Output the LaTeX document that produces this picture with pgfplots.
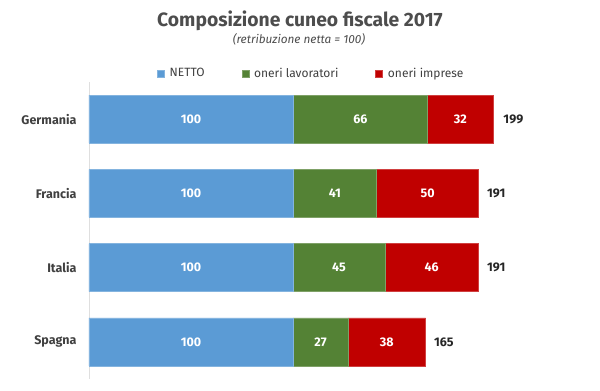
\documentclass[border=0pt]{standalone}
\usepackage{pgfplots}
\pgfplotsset{compat=1.18}
\usepackage{fontspec}
\setmainfont{Fira Sans}
\definecolor{cblue}{HTML}{5B9BD5}
\definecolor{cgreen}{HTML}{548235}
\definecolor{cred}{HTML}{C00000}
\definecolor{tgray}{HTML}{404040}
\definecolor{ttl}{HTML}{4D4D4D}
\pgfplotsset{
  myaxis/.style={at={(89pt,12pt)}, anchor=south west, scale only axis,
    width=510pt, height=297pt, xmin=0, xmax=250, ymin=-0.5, ymax=3.5, y dir=reverse},
}
\begin{document}
\begin{tikzpicture}
\useasboundingbox (0,0) rectangle (600pt,391pt);
\node[anchor=base, font=\fontsize{19.3}{22}\selectfont\bfseries, text=ttl] at (300pt,364pt) {Composizione cuneo fiscale 2017};
\node[anchor=base, font=\fontsize{11.8}{13}\selectfont\itshape, text=ttl] at (299pt,347pt) {(retribuzione netta = 100)};
\begin{axis}[myaxis, xbar stacked, bar width=48pt,
  ytick={0,1,2,3}, yticklabels={Germania,Francia,Italia,Spagna},
  yticklabel style={font=\fontsize{12.5}{14}\selectfont\bfseries, text=tgray, xshift=-9pt},
  ytick style={draw=none}, xtick=\empty,
  axis x line=none, axis y line*=left, y axis line style={draw=gray!25, -},
  legend style={at={(0.436,1.029)}, anchor=center, draw=none, legend columns=3,
    font=\fontsize{12}{14}\selectfont, text=tgray,
    /tikz/every odd column/.append style={column sep=3pt},
    /tikz/every even column/.append style={column sep=35pt}},
  legend image code/.code={\fill[#1] (0pt,-3.5pt) rectangle (7pt,3.5pt);},
]
\addplot[fill=cblue, draw=cblue!75!white, line width=0.5pt] coordinates {(100,0) (100,1) (100,2) (100,3)};
\addplot[fill=cgreen, draw=cgreen!75!white, line width=0.5pt] coordinates {(66,0) (41,1) (45,2) (27,3)};
\addplot[fill=cred, draw=cred!75!white, line width=0.5pt] coordinates {(32,0) (50,1) (46,2) (38,3)};
\legend{NETTO, oneri lavoratori, oneri imprese}
\end{axis}
\begin{axis}[myaxis, hide axis]
\addplot[draw=none, mark=none, nodes near coords, point meta=explicit symbolic,
  nodes near coords align=center,
  every node near coord/.style={font=\fontsize{12.5}{14}\selectfont\bfseries, text=white, anchor=center}]
  table[meta=lab] {
x y lab
50 0 100
133 0 66
182 0 32
50 1 100
120.5 1 41
166 1 50
50 2 100
122.5 2 45
168 2 46
50 3 100
113.5 3 27
146 3 38
};
\addplot[draw=none, mark=none, nodes near coords, point meta=explicit symbolic,
  every node near coord/.style={font=\fontsize{12.5}{14}\selectfont\bfseries, text=black!85, anchor=west, xshift=5pt}]
  table[meta=lab] {
x y lab
199 0 199
191 1 191
191 2 191
165 3 165
};
\end{axis}
\end{tikzpicture}
\end{document}
